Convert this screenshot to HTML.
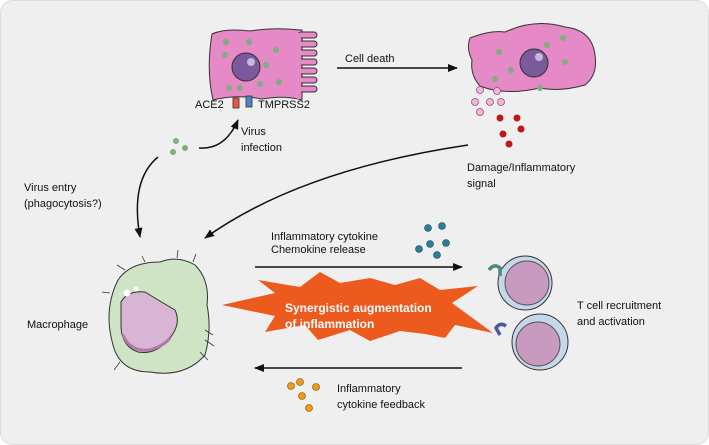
<!DOCTYPE html>
<html><head><style>
body{margin:0;background:#fff;}
svg{display:block;font-family:"Liberation Sans",Arial,sans-serif;}
</style></head><body>
<svg width="709" height="445" viewBox="0 0 709 445">
<defs><marker id="a" markerWidth="10" markerHeight="8" refX="9" refY="4" orient="auto" markerUnits="userSpaceOnUse"><path d="M0,0 L10,4 L0,8 Z" fill="#111"/></marker></defs>
<rect x="0.5" y="0.5" width="708" height="444" rx="12" fill="#efefef" stroke="#ddd"/>
<!-- epithelial cell -->
<path d="M212,34 Q225,28 250,31 Q275,27 300,30 L302,30 L302,100 Q285,95 262,99 Q235,94 213,100 Q206,70 212,34Z" fill="#e58ac6" stroke="#333" stroke-width="1"/>
<g fill="#e58ac6" stroke="#333" stroke-width="1">
<rect x="298" y="32" width="19" height="6" rx="3"/><rect x="298" y="41" width="19" height="6" rx="3"/><rect x="298" y="50" width="19" height="6" rx="3"/><rect x="298" y="59" width="19" height="6" rx="3"/><rect x="298" y="68" width="19" height="6" rx="3"/><rect x="298" y="77" width="19" height="6" rx="3"/><rect x="298" y="86" width="19" height="6" rx="3"/></g>
<rect x="297" y="33" width="4" height="66" fill="#e58ac6"/>
<circle cx="246" cy="67" r="14" fill="#7a5a9a" stroke="#333"/><circle cx="251" cy="62" r="4" fill="#c9b6dc"/>
<g fill="#7fae7f"><circle cx="226" cy="42" r="3"/><circle cx="249" cy="42" r="3"/><circle cx="276" cy="50" r="3"/><circle cx="225" cy="55" r="3"/><circle cx="266" cy="65" r="3"/><circle cx="229" cy="88" r="3"/><circle cx="240" cy="88" r="3"/><circle cx="260" cy="84" r="3"/><circle cx="279" cy="82" r="3"/></g>
<rect x="233" y="98" width="6" height="10" fill="#e5584a" stroke="#333" stroke-width="0.8"/>
<rect x="246" y="96" width="6" height="11" fill="#4d86c5" stroke="#333" stroke-width="0.8"/>
<!-- damaged cell -->
<path d="M470,38 Q490,30 505,32 Q535,18 565,27 Q592,30 595,55 Q598,75 585,85 Q560,92 540,88 Q505,96 480,86 Q470,75 472,60 Q466,48 470,38Z" fill="#e58ac6" stroke="#333"/>
<circle cx="534" cy="63" r="14" fill="#7a5a9a" stroke="#333"/><circle cx="539" cy="57" r="4" fill="#c9b6dc"/>
<g fill="#7fae7f"><circle cx="499" cy="52" r="3"/><circle cx="547" cy="45" r="3"/><circle cx="563" cy="38" r="3"/><circle cx="511" cy="70" r="3"/><circle cx="495" cy="79" r="3"/><circle cx="540" cy="88" r="3"/><circle cx="565" cy="62" r="3"/></g>
<g fill="#f0b7d8" stroke="#9a4a7a" stroke-width="0.8"><circle cx="480" cy="90" r="3.5"/><circle cx="497" cy="91" r="3.5"/><circle cx="475" cy="102" r="3.5"/><circle cx="490" cy="102" r="3.5"/><circle cx="501" cy="102" r="3.5"/><circle cx="480" cy="112" r="3.5"/></g>
<g fill="#c0181a"><circle cx="500" cy="118" r="3.5"/><circle cx="517" cy="118" r="3.5"/><circle cx="503" cy="134" r="3.5"/><circle cx="521" cy="129" r="3.5"/><circle cx="509" cy="144" r="3.5"/></g>
<!-- virus dots -->
<g fill="#7fae7f"><circle cx="176" cy="141" r="3"/><circle cx="185" cy="148" r="3"/><circle cx="173" cy="152" r="3"/></g>
<!-- arrows -->
<g fill="none" stroke="#111" stroke-width="1.5">
<line x1="337" y1="68" x2="457" y2="68" marker-end="url(#a)"/>
<path d="M199,148 Q225,150 238,120" marker-end="url(#a)"/>
<path d="M158,157 Q130,180 140,237" marker-end="url(#a)"/>
<path d="M468,145 Q300,170 205,238" marker-end="url(#a)"/>
<line x1="255" y1="267" x2="462" y2="267" marker-end="url(#a)"/>
<line x1="462" y1="368" x2="255" y2="368" marker-end="url(#a)"/>
</g>
<!-- cytokines -->
<g fill="#2e7b9a" stroke="#1a4a5a" stroke-width="0.6"><circle cx="428" cy="228" r="3.5"/><circle cx="442" cy="226" r="3.5"/><circle cx="446" cy="243" r="3.5"/><circle cx="419" cy="249" r="3.5"/><circle cx="430" cy="244" r="3.5"/><circle cx="437" cy="255" r="3.5"/></g>
<g fill="#f09a1a" stroke="#7a4a00" stroke-width="0.6"><circle cx="291" cy="386" r="3.5"/><circle cx="300" cy="382" r="3.5"/><circle cx="316" cy="387" r="3.5"/><circle cx="302" cy="396" r="3.5"/><circle cx="309" cy="408" r="3.5"/></g>
<!-- macrophage -->
<path d="M118,280 Q130,262 160,262 Q178,255 195,265 Q210,280 207,305 Q212,330 205,355 Q185,378 150,372 Q120,372 113,345 Q103,310 118,280Z" fill="#cfe4c4" stroke="#333"/>
<g fill="none" stroke="#333" stroke-width="0.8"><path d="M125,270 l-8,-5"/><path d="M145,262 l-3,-6"/><path d="M177,258 l1,-8"/><path d="M193,262 l3,-8"/><path d="M110,293 l-8,-1"/><path d="M205,330 l8,5"/><path d="M205,340 l9,6"/><path d="M200,352 l8,8"/><path d="M120,362 l-6,8"/></g>
<path d="M121,302 Q128,290 145,292 Q158,300 175,310 Q182,325 168,340 Q155,355 138,352 Q121,346 121,325Z" fill="#d8b5d4" stroke="#333"/>
<path d="M123,335 Q130,352 150,350 Q165,345 170,338" fill="none" stroke="#b07aa8" stroke-width="3"/>
<circle cx="127" cy="293" r="3.5" fill="#fff"/><circle cx="136" cy="289" r="2.5" fill="#fff"/>
<!-- T cells -->
<circle cx="525" cy="283" r="27" fill="#c4d8ea" stroke="#333"/><circle cx="527" cy="283" r="22" fill="#c89ac0" stroke="#555"/>
<circle cx="540" cy="342" r="28" fill="#c4d8ea" stroke="#333"/><circle cx="538" cy="344" r="22" fill="#c89ac0" stroke="#555"/>
<path d="M489,270 q5,-7 11,-2 l0,8" fill="none" stroke="#4e8a7a" stroke-width="3.5"/>
<path d="M506,326 q-6,-4 -10,2 l4,7" fill="none" stroke="#4a5aa0" stroke-width="3.5"/>
<!-- starburst -->
<path d="M222,305 L275,293 L258,280 L300,287 L320,272 L340,283 L370,278 L395,285 L420,278 L440,290 L478,286 L452,303 L493,333 L455,325 L445,338 L425,334 L400,331 L370,341 L350,330 L318,340 L305,325 L265,332 L275,316Z" fill="#ec5a1e"/>
<text x="285" y="312" fill="#fff" font-size="12" font-weight="bold">Synergistic augmentation</text>
<text x="285" y="328" fill="#fff" font-size="12" font-weight="bold">of inflammation</text>
<g font-size="11" fill="#111">
<text x="345" y="62">Cell death</text>
<text x="195" y="108">ACE2</text>
<text x="258" y="108">TMPRSS2</text>
<text x="241" y="135">Virus</text><text x="241" y="151">infection</text>
<text x="467" y="171">Damage/Inflammatory</text><text x="467" y="187">signal</text>
<text x="24" y="191">Virus entry</text><text x="24" y="207">(phagocytosis?)</text>
<text x="271" y="240">Inflammatory cytokine</text><text x="271" y="253">Chemokine release</text>
<text x="27" y="328">Macrophage</text>
<text x="577" y="309">T cell recruitment</text><text x="577" y="325">and activation</text>
<text x="337" y="392">Inflammatory</text><text x="337" y="408">cytokine feedback</text>
</g>
</svg>
</body></html>
